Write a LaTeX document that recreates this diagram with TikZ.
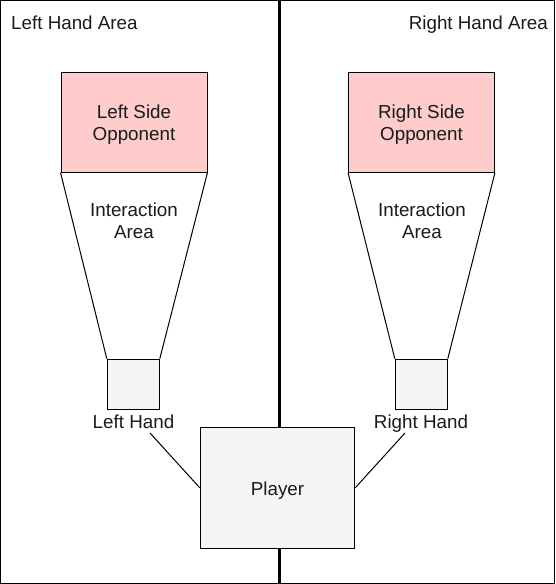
\documentclass[tikz,border=0pt]{standalone}
\usepackage{fontspec}
\setmainfont{Liberation Sans}
\definecolor{oppfill}{HTML}{FFCCCC}
\definecolor{boxfill}{HTML}{F5F5F5}
\definecolor{txt}{HTML}{1A1A1A}
\begin{document}
\begin{tikzpicture}[x=1pt,y=-1pt,
  every node/.style={font=\fontsize{18.8}{22}\selectfont, text=txt, inner sep=0pt, align=center},
  oppbox/.style={draw=black, line width=1pt, fill=oppfill, minimum width=146pt, minimum height=100pt},
  handbox/.style={draw=black, line width=1pt, fill=boxfill, minimum width=52pt, minimum height=50pt},
  playerbox/.style={draw=black, line width=1pt, fill=boxfill, minimum width=154.5pt, minimum height=121pt},
  thin/.style={draw=black, line width=1pt}]
\useasboundingbox (0,0) rectangle (555,584);
% outer frame
\draw[line width=1pt] (0.5,0.5) rectangle (554.5,583.5);
% divider
\coordinate (divtop) at (279.3,0);
\coordinate (divbot) at (279.3,584);
\draw[line width=3pt] (divtop) -- (divbot);
% area labels
\node[anchor=base west] (lharea) at (11,29.3) {Left Hand Area};
\node[anchor=base east] (rharea) at (548,29.3) {Right Hand Area};
% opponents
\node[oppbox] (lopp) at (134,122) {};
\node[oppbox] (ropp) at (421.5,122) {};
\node (loppt) at (134,125.1) {Left Side\\Opponent};
\node (roppt) at (421.5,125.1) {Right Side\\Opponent};
% hands
\node[handbox] (lhand) at (133.3,384.2) {};
\node[handbox] (rhand) at (421.3,384.2) {};
% interaction areas
\draw[thin] (lopp.south west) -- (lhand.north west);
\draw[thin] (lopp.south east) -- (lhand.north east);
\draw[thin] (ropp.south west) -- (rhand.north west);
\draw[thin] (ropp.south east) -- (rhand.north east);
\node (lint) at (134,220.3) {Interaction\\Area};
\node (rint) at (422,220.3) {Interaction\\Area};
% hand labels
\node[anchor=base] (lhlab) at (133.5,428.5) {Left Hand};
\node[anchor=base] (rhlab) at (421,428.5) {Right Hand};
% player
\node[playerbox] (player) at (277.5,487.8) {};
\node[anchor=base] (playert) at (277.5,495.3) {Player};
% connectors
\coordinate (lhend) at (150,433);
\coordinate (rhend) at (405,433);
\draw[thin] (lhend) -- (player.west);
\draw[thin] (rhend) -- (player.east);
\end{tikzpicture}
\end{document}
